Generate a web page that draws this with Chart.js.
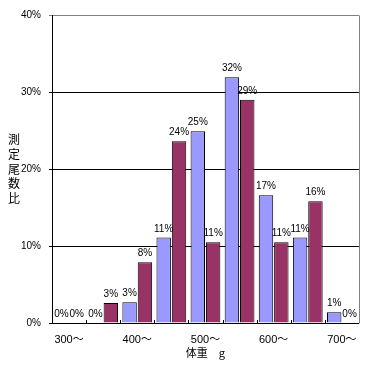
<!DOCTYPE html>
<html><head><meta charset="utf-8">
<script src="https://cdn.jsdelivr.net/npm/chart.js@4.4.0/dist/chart.umd.min.js"></script>
<style>html,body{margin:0;padding:0;background:#fff}#wrap{width:367px;height:367px}</style>
</head><body><div id="wrap"><canvas id="c" width="367" height="367"></canvas></div>
<script>
const categories = ['300～','350～','400～','450～','500～','550～','600～','650～','700～'];
const seriesA = [0, 0, 2.7, 11.1, 24.9, 31.9, 16.6, 11.1, 1.4];
const seriesB = [0, 2.6, 7.9, 23.6, 10.5, 29.0, 10.5, 15.8, 0];
const yTickValues = [0, 10, 20, 30, 40];
const yTitle = '測定尾数比';
const xTitle = '体重　g';

const FONT = '"Liberation Sans", "Noto Sans CJK JP", sans-serif';
const CJK = '"Noto Sans CJK JP", sans-serif';

const extras = {
  id: 'extras',
  afterDatasetsDraw(chart) {
    const ctx = chart.ctx, a = chart.chartArea;
    ctx.save();
    // data labels
    ctx.fillStyle = '#000';
    ctx.font = '10px ' + FONT;
    ctx.textAlign = 'center';
    ctx.textBaseline = 'alphabetic';
    chart.data.datasets.forEach((ds, di) => {
      const meta = chart.getDatasetMeta(di);
      meta.data.forEach((el, i) => {
        ctx.fillText(Math.round(ds.data[i]) + '%', el.x, el.y - 6);
      });
    });
    // plot border top/right grey
    ctx.strokeStyle = '#808080';
    ctx.lineWidth = 1;
    ctx.beginPath();
    ctx.moveTo(Math.round(a.right) + 0.5, Math.round(a.top) + 0.5);
    ctx.lineTo(Math.round(a.right) + 0.5, Math.round(a.bottom) + 0.5);
    ctx.stroke();
    // inside tick marks on x axis between categories
    const xs = chart.scales.x;
    const half = (xs.getPixelForValue(1) - xs.getPixelForValue(0)) / 2;
    ctx.strokeStyle = '#000';
    ctx.beginPath();
    for (let i = 1; i < categories.length; i++) {
      const x = Math.round(xs.getPixelForValue(i) - half) + 0.5;
      ctx.moveTo(x, a.bottom);
      ctx.lineTo(x, a.bottom - 3);
    }
    ctx.stroke();
    ctx.restore();
  },
  afterDraw(chart) {
    const ctx = chart.ctx, a = chart.chartArea;
    ctx.save();
    ctx.fillStyle = '#000';
    ctx.font = '12px ' + CJK;
    ctx.textAlign = 'center';
    ctx.textBaseline = 'middle';
    const chars = Array.from(yTitle);
    const step = 14.8;
    const mid = (a.top + a.bottom) / 2;
    chars.forEach((ch, i) => {
      ctx.fillText(ch, 14, mid + (i - (chars.length - 1) / 2) * step);
    });
    ctx.restore();
  }
};

new Chart(document.getElementById('c'), {
  type: 'bar',
  data: {
    labels: categories,
    datasets: [
      { data: seriesA, backgroundColor: '#9999FF', borderColor: '#000', borderWidth: 1,
        categoryPercentage: 0.9, barPercentage: 0.94 },
      { data: seriesB, backgroundColor: '#993366', borderColor: '#000', borderWidth: 1,
        categoryPercentage: 0.9, barPercentage: 0.94 }
    ]
  },
  options: {
    responsive: false, animation: false, devicePixelRatio: 1,
    layout: { padding: { left: 0, right: 8, top: 15, bottom: 8 } },
    plugins: { legend: { display: false }, tooltip: { enabled: false } },
    scales: {
      x: {
        grid: { display: false, drawTicks: false, offset: true },
        border: { color: '#000', width: 1 },
        ticks: {
          autoSkip: false, maxRotation: 0, minRotation: 0, padding: 10, color: '#000',
          font: { family: FONT, size: 11 },
          callback: (v, i) => (i % 2 === 0 ? categories[i] : '')
        },
        title: { display: true, text: xTitle, color: '#000', padding: 0,
                 font: { family: CJK, size: 11 } },
        afterFit: s => { s.height = 36; }
      },
      y: {
        min: 0, max: 40,
        afterBuildTicks: s => { s.ticks = yTickValues.map(v => ({ value: v })); },
        ticks: { padding: 8, color: '#000', font: { family: FONT, size: 10 },
                 callback: v => v + '%' },
        grid: { color: c => (c.tick && c.tick.value === 40 ? '#808080' : '#000'),
                lineWidth: 1, tickLength: 3, drawTicks: true },
        border: { color: '#000', width: 1 },
        afterFit: s => { s.width = 52; }
      }
    }
  },
  plugins: [extras]
});
</script>
</body></html>
